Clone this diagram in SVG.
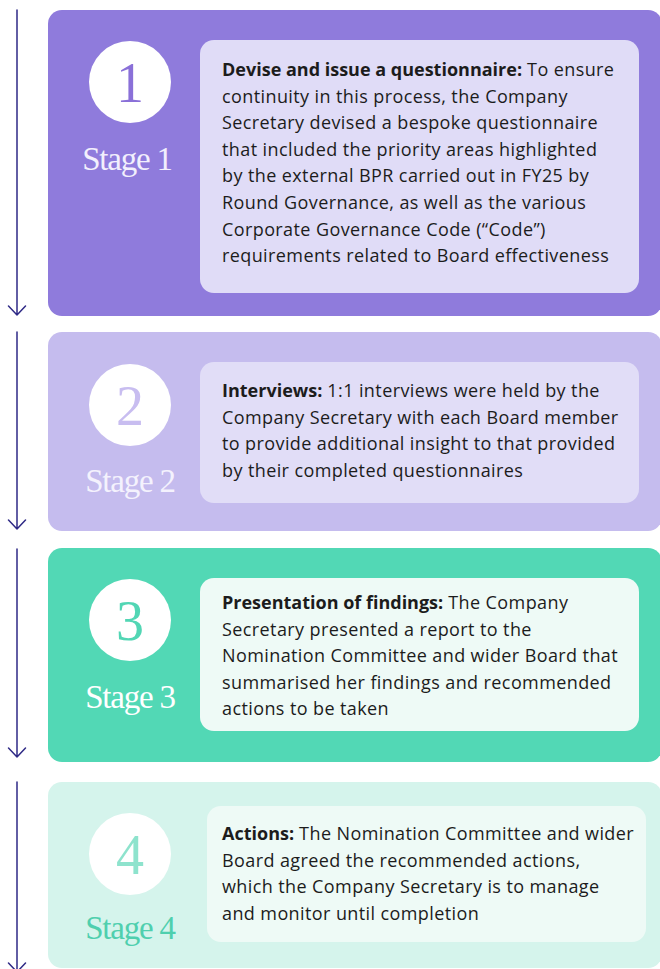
<svg xmlns="http://www.w3.org/2000/svg" width="660" height="969" viewBox="0 0 660 969">
  <style>
    .flow { stroke: #2f2a86; stroke-width: 1.5; fill: none; stroke-linecap: round; stroke-linejoin: round; }
    .num { font-family: "Liberation Serif", "DejaVu Serif", serif; font-size: 56px; text-anchor: middle; }
    .stage { font-family: "Liberation Serif", "DejaVu Serif", serif; font-size: 33px; letter-spacing: -1.2px; text-anchor: middle; }
    .body { font-family: "Open Sans", "Noto Sans", sans-serif; font-size: 18px; letter-spacing: 0.4px; fill: #1c1c1c; }
    .body tspan.b { font-weight: 700; letter-spacing: 0; }
  </style>
  <rect width="660" height="969" fill="#ffffff"/>

  <g id="connectors">
    <path class="flow" d="M17 10 V315 M8.5 306 L17 315 L25.5 306"/>
    <path class="flow" d="M17 332 V529 M8.5 520 L17 529 L25.5 520"/>
    <path class="flow" d="M17 549 V757 M8.5 748 L17 757 L25.5 748"/>
    <path class="flow" d="M17 782 V972 M8.5 963 L17 972 L25.5 963"/>
  </g>

  <g id="stage1">
    <rect x="48" y="10" width="614" height="306" rx="14" fill="#8f7bdc"/>
    <circle cx="130" cy="82" r="41" fill="#ffffff"/>
    <text class="num" x="130" y="102" fill="#8a70d8">1</text>
    <text class="stage" x="127" y="170" fill="#f2effd">Stage 1</text>
    <rect x="200" y="40" width="439" height="253" rx="14" fill="#e0dcf7"/>
    <text class="body">
      <tspan x="222" y="76"><tspan class="b">Devise and issue a questionnaire:</tspan> To ensure</tspan>
      <tspan x="222" y="102.6">continuity in this process, the Company</tspan>
      <tspan x="222" y="129.2">Secretary devised a bespoke questionnaire</tspan>
      <tspan x="222" y="155.8">that included the priority areas highlighted</tspan>
      <tspan x="222" y="182.4">by the external BPR carried out in FY25 by</tspan>
      <tspan x="222" y="209">Round Governance, as well as the various</tspan>
      <tspan x="222" y="235.6">Corporate Governance Code (“Code”)</tspan>
      <tspan x="222" y="262.2">requirements related to Board effectiveness</tspan>
    </text>
  </g>

  <g id="stage2">
    <rect x="48" y="332" width="614" height="199" rx="14" fill="#c5bcee"/>
    <circle cx="130" cy="405" r="41" fill="#ffffff"/>
    <text class="num" x="130" y="425" fill="#c8bdf0">2</text>
    <text class="stage" x="130" y="492" fill="#f4f2fd">Stage 2</text>
    <rect x="200" y="362" width="439" height="141" rx="14" fill="#e1ddf7"/>
    <text class="body">
      <tspan x="222" y="397"><tspan class="b">Interviews:</tspan> 1:1 interviews were held by the</tspan>
      <tspan x="222" y="423.6">Company Secretary with each Board member</tspan>
      <tspan x="222" y="450.2">to provide additional insight to that provided</tspan>
      <tspan x="222" y="476.8">by their completed questionnaires</tspan>
    </text>
  </g>

  <g id="stage3">
    <rect x="48" y="548" width="614" height="214" rx="14" fill="#52d8b5"/>
    <circle cx="130" cy="620" r="41" fill="#ffffff"/>
    <text class="num" x="130" y="640" fill="#52d6b4">3</text>
    <text class="stage" x="130" y="708" fill="#ffffff">Stage 3</text>
    <rect x="200" y="578" width="439" height="153" rx="14" fill="#eefaf6"/>
    <text class="body">
      <tspan x="222" y="609"><tspan class="b">Presentation of findings:</tspan> The Company</tspan>
      <tspan x="222" y="635.6">Secretary presented a report to the</tspan>
      <tspan x="222" y="662.2">Nomination Committee and wider Board that</tspan>
      <tspan x="222" y="688.8">summarised her findings and recommended</tspan>
      <tspan x="222" y="715.4">actions to be taken</tspan>
    </text>
  </g>

  <g id="stage4">
    <rect x="48" y="782" width="614" height="186" rx="14" fill="#d5f4ec"/>
    <circle cx="130" cy="854" r="41" fill="#ffffff"/>
    <text class="num" x="130" y="874" fill="#8ee3cd">4</text>
    <text class="stage" x="130" y="939" fill="#4fcfae">Stage 4</text>
    <rect x="207" y="806" width="439" height="136" rx="14" fill="#eefaf6"/>
    <text class="body">
      <tspan x="222" y="840"><tspan class="b">Actions:</tspan> The Nomination Committee and wider</tspan>
      <tspan x="222" y="866.6">Board agreed the recommended actions,</tspan>
      <tspan x="222" y="893.2">which the Company Secretary is to manage</tspan>
      <tspan x="222" y="919.8">and monitor until completion</tspan>
    </text>
  </g>
</svg>
